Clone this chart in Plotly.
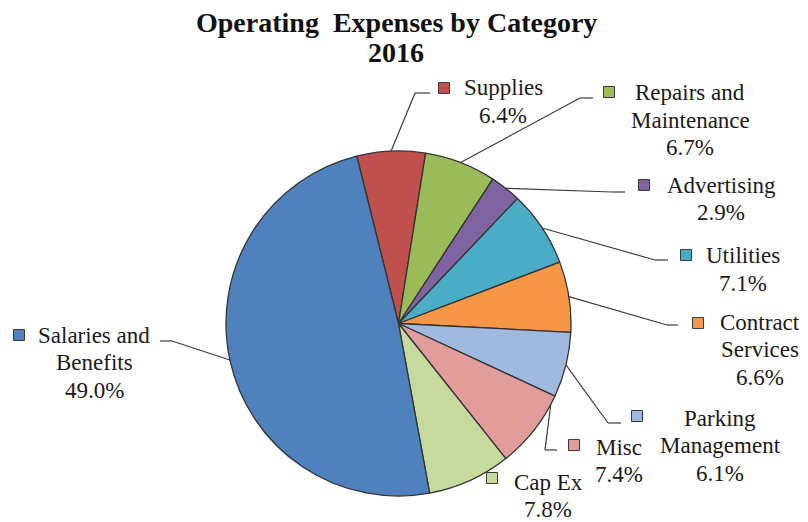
import math
import plotly.graph_objects as go

# ---------------- data ----------------
categories = ["Supplies", "Repairs and Maintenance", "Advertising", "Utilities",
              "Contract Services", "Parking Management", "Misc", "Cap Ex",
              "Salaries and Benefits"]
values = [6.4, 6.7, 2.9, 7.1, 6.6, 6.1, 7.4, 7.8, 49.0]
label_lines = [["Supplies"], ["Repairs and", "Maintenance"], ["Advertising"],
               ["Utilities"], ["Contract", "Services"], ["Parking", "Management"],
               ["Misc"], ["Cap Ex"], ["Salaries and", "Benefits"]]
colors = ["#C0504D", "#9BBB59", "#8064A2", "#4BACC6", "#F79646",
          "#A0B9DE", "#E29D9B", "#C6DA9E", "#4F81BD"]
title_lines = ["Operating\u00a0 Expenses by Category", "2016"]

# ---------------- layout geometry (pixels) ----------------
W, H = 808, 522
CX, CY, R = 398.5, 323.5, 172.5
ROT = -14
FONT = "Liberation Serif"
TXT = "#1a1a1a"
PITCH = 27.5

def px(x):
    return x / W

def py(y):
    return 1 - y / H

# per-label placement: text centre x, first line y, key square centre,
# leader elbow/end points, attachment fraction within slice
place = {
    "Supplies": dict(cx=503, y=88, sq=(444, 88), lead=[(415, 93), (430, 93)], f=0.5),
    "Repairs and Maintenance": dict(cx=690, y=93, sq=(609, 92), lead=[(580, 98), (593, 98)], f=0.5),
    "Advertising": dict(cx=721, y=185, sq=(644, 185), lead=[(612, 192), (625, 192)], f=0.5),
    "Utilities": dict(cx=743, y=256, sq=(686, 255), lead=[(655, 260), (668, 260)], f=0.5),
    "Contract Services": dict(cx=760, y=322, sq=(698, 323), lead=[(667, 325), (678, 325)], f=0.5),
    "Parking Management": dict(cx=720, y=418, sq=(637, 416), lead=[(608, 423), (621, 423)], f=0.5),
    "Misc": dict(cx=619, y=447, sq=(574, 445), lead=[(545, 450), (557, 450)], f=0.12),
    "Cap Ex": dict(cx=548, y=482, sq=(492, 478), lead=None, f=0.5),
    "Salaries and Benefits": dict(cx=94, y=335, sq=(19, 335), lead=[(172, 341), (160, 341)], f=0.5),
}

fig = go.Figure()
fig.add_trace(go.Pie(
    labels=categories, values=values, sort=False, direction="clockwise",
    rotation=ROT, textinfo="none", hoverinfo="label+percent",
    marker=dict(colors=colors, line=dict(color="#333333", width=1.3)),
    domain=dict(x=[px(CX - R), px(CX + R)], y=[py(CY + R), py(CY - R)]),
    showlegend=False,
))

annotations = []
shapes = []
total = sum(values)
cum = 0.0
for cat, val, lines, col in zip(categories, values, label_lines, colors):
    p = place[cat]
    ang = math.radians(ROT + 360 * (cum + p["f"] * val) / total)
    cum += val
    # text lines
    all_lines = lines + [f"{val:.1f}%"]
    for i, t in enumerate(all_lines):
        annotations.append(dict(
            text=t, x=px(p["cx"]), y=py(p["y"] + i * PITCH), xref="paper", yref="paper",
            xanchor="center", yanchor="middle", showarrow=False,
            font=dict(family=FONT, size=23, color=TXT)))
    # key square
    sx, sy = p["sq"]
    s = 5.5
    shapes.append(dict(type="rect", xref="paper", yref="paper",
                       x0=px(sx - s), x1=px(sx + s), y0=py(sy + s), y1=py(sy - s),
                       fillcolor=col, line=dict(color="#3a3a3a", width=1)))
    # leader line
    if p["lead"]:
        ex = CX + R * math.sin(ang)
        ey = CY - R * math.cos(ang)
        pts = [(ex, ey)] + p["lead"]
        for (x0, y0), (x1, y1) in zip(pts[:-1], pts[1:]):
            shapes.append(dict(type="line", xref="paper", yref="paper",
                               x0=px(x0), y0=py(y0), x1=px(x1), y1=py(y1),
                               line=dict(color="#3c3c3c", width=1.2)))

# title
for i, (t, y) in enumerate(zip(title_lines, [22, 53])):
    annotations.append(dict(
        text=f"<b>{t}</b>", x=px(396), y=py(y), xref="paper", yref="paper",
        xanchor="center", yanchor="middle", showarrow=False,
        font=dict(family=FONT, size=28, color="#111111")))

fig.update_layout(
    width=W, height=H, margin=dict(l=0, r=0, t=0, b=0),
    paper_bgcolor="white", plot_bgcolor="white",
    annotations=annotations, shapes=shapes,
)

fig.write_html("out.html")
